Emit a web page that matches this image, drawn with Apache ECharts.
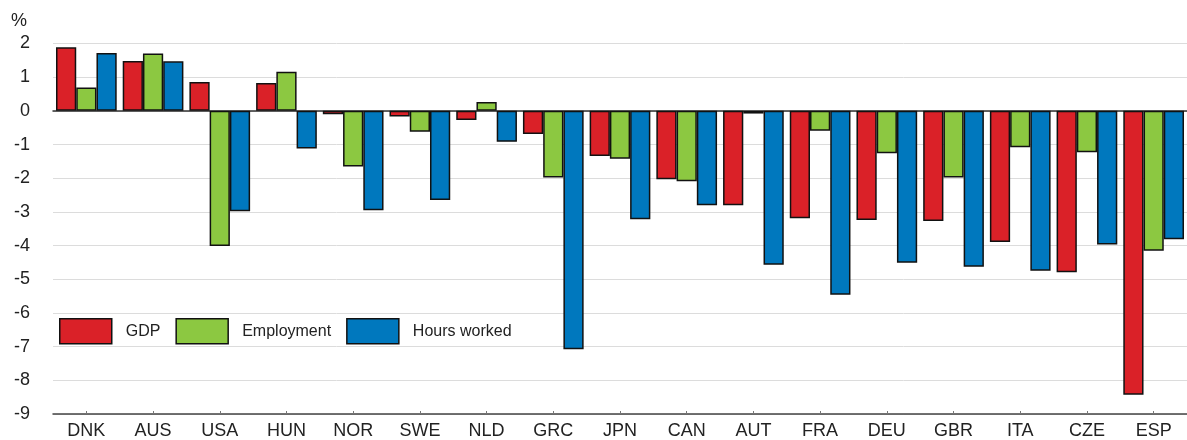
<!DOCTYPE html>
<html>
<head>
<meta charset="utf-8">
<script src="https://cdn.jsdelivr.net/npm/echarts@6/dist/echarts.min.js"></script>
<style>
  html, body { margin: 0; padding: 0; background: #fff; }
  #chart { width: 1187px; height: 440px; }
</style>
</head>
<body>
<div id="chart"></div>
<script>
// categories and values (% change)
var countries = ['DNK', 'AUS', 'USA', 'HUN', 'NOR', 'SWE', 'NLD', 'GRC', 'JPN', 'CAN', 'AUT', 'FRA', 'DEU', 'GBR', 'ITA', 'CZE', 'ESP'];
var gdp = [1.89, 1.48, 0.86, 0.83, -0.10, -0.17, -0.27, -0.69, -1.34, -2.03, -2.80, -3.19, -3.24, -3.27, -3.89, -4.79, -8.43];
var employment = [0.69, 1.70, -4.01, 1.16, -1.65, -0.62, 0.26, -1.98, -1.42, -2.09, -0.08, -0.59, -1.26, -1.98, -1.08, -1.23, -4.15];
var hoursWorked = [1.72, 1.47, -2.98, -1.12, -2.95, -2.65, -0.92, -7.08, -3.22, -2.80, -4.57, -5.46, -4.51, -4.63, -4.75, -3.97, -3.81];
var yTicks = {min: -9, max: 2, interval: 1};

var fontFam = '"Liberation Sans", Arial, sans-serif';

function barSeries(name, data, color) {
    return {
        name: name,
        type: 'bar',
        xAxisIndex: 0,
        data: data,
        barGap: '0%',
        barCategoryGap: '9%',
        itemStyle: {color: color, borderColor: '#111', borderWidth: 1.5},
        emphasis: {disabled: true}
    };
}

var chart = echarts.init(document.getElementById('chart'));
var option = {
    animation: false,
    backgroundColor: '#ffffff',
    title: {text: '%', left: 11, top: 12, padding: 0, textStyle: {fontFamily: fontFam, fontSize: 18, fontWeight: 'normal', color: '#222'}},
    grid: {left: 53, right: -6, top: 43.5, bottom: 24},
    legend: {
        left: 59, top: 318, padding: 0,
        itemWidth: 52, itemHeight: 25, itemGap: 15,
        icon: 'rect',
        itemStyle: {borderColor: '#111', borderWidth: 1.5},
        textStyle: {fontFamily: fontFam, fontSize: 16, color: '#222', padding: [0, 0, 0, 9]},
        data: ['GDP', 'Employment', 'Hours worked']
    },
    xAxis: [{
        type: 'category',
        data: countries,
        axisLine: {onZero: false, lineStyle: {color: '#444', width: 1.5}},
        axisTick: {show: true, inside: true, length: 3, alignWithLabel: true, lineStyle: {color: '#777'}},
        axisLabel: {fontFamily: fontFam, fontSize: 18, color: '#222', margin: 8},
        splitLine: {show: false}
    }, {
        type: 'category',
        data: countries,
        position: 'bottom',
        axisLine: {onZero: true, lineStyle: {color: '#333', width: 1.5}},
        axisTick: {show: false},
        axisLabel: {show: false},
        splitLine: {show: false}
    }],
    yAxis: {
        type: 'value',
        min: yTicks.min, max: yTicks.max, interval: yTicks.interval,
        axisLine: {show: false},
        axisTick: {show: false},
        axisLabel: {fontFamily: fontFam, fontSize: 18, color: '#222', margin: 23},
        splitLine: {lineStyle: {color: '#dcdcdc', width: 1}}
    },
    series: [
        barSeries('GDP', gdp, '#da2128'),
        barSeries('Employment', employment, '#8cc841'),
        barSeries('Hours worked', hoursWorked, '#0078be')
    ]
};
chart.setOption(option);
</script>
</body>
</html>
